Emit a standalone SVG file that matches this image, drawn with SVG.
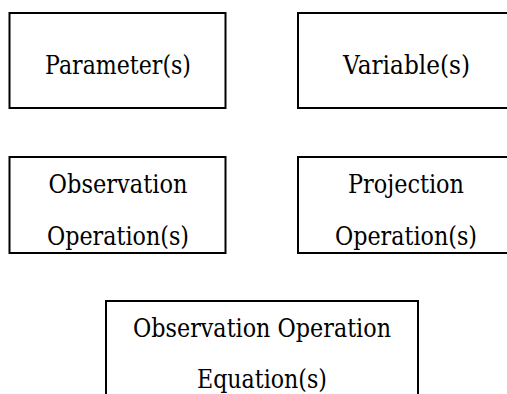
<svg xmlns="http://www.w3.org/2000/svg" width="507" height="394" viewBox="0 0 507 394">
<style>
.box{fill:#fff;stroke:#000;stroke-width:2}
.t{font-family:"DejaVu Serif","Liberation Serif",serif;font-size:26px;fill:#000;text-anchor:middle}
</style>
<rect width="507" height="394" fill="#fff"/>
<g id="parameters">
<rect class="box" x="9.5" y="13" width="216" height="95"/>
<text class="t" x="118" y="74" textLength="146" lengthAdjust="spacingAndGlyphs">Parameter(s)</text>
</g>
<g id="variables">
<rect class="box" x="298" y="13" width="216" height="95"/>
<text class="t" x="406.5" y="74" textLength="127" lengthAdjust="spacingAndGlyphs">Variable(s)</text>
</g>
<g id="observation-operations">
<rect class="box" x="9.5" y="157" width="216" height="96"/>
<text class="t" x="118" y="193" textLength="139" lengthAdjust="spacingAndGlyphs">Observation</text>
<text class="t" x="118" y="245" textLength="142" lengthAdjust="spacingAndGlyphs">Operation(s)</text>
</g>
<g id="projection-operations">
<rect class="box" x="298" y="157" width="216" height="96"/>
<text class="t" x="406" y="193" textLength="116" lengthAdjust="spacingAndGlyphs">Projection</text>
<text class="t" x="406" y="245" textLength="142" lengthAdjust="spacingAndGlyphs">Operation(s)</text>
</g>
<g id="observation-operation-equations">
<rect class="box" x="106" y="301" width="312" height="110"/>
<text class="t" x="262" y="337" textLength="258" lengthAdjust="spacingAndGlyphs">Observation Operation</text>
<text class="t" x="262" y="388" textLength="130" lengthAdjust="spacingAndGlyphs">Equation(s)</text>
</g>
<g id="connectors"></g>
</svg>
